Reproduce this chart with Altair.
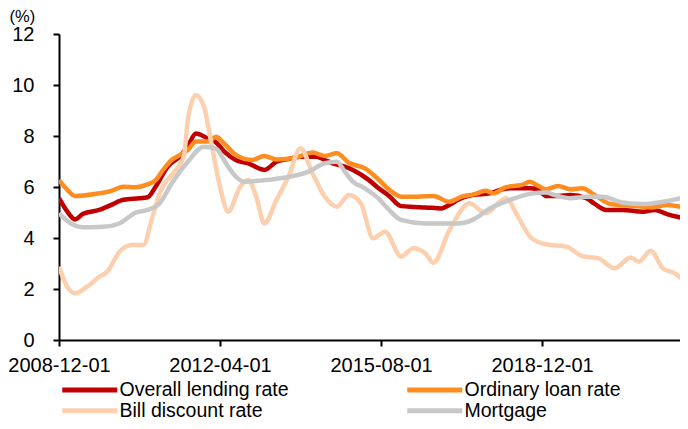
import json
import altair as alt
import pandas as pd

# ---- data (month offsets from 2008-12-01, rates in %) ----
series_names = ["Overall lending rate", "Ordinary loan rate", "Bill discount rate", "Mortgage"]
series_colors = ["#C00000", "#FF8C1F", "#FCD0AF", "#C8C8C8"]

tick_months = [0, 40, 80, 120]
tick_labels = ["2008-12-01", "2012-04-01", "2015-08-01", "2018-12-01"]
y_ticks = [0, 2, 4, 6, 8, 10, 12]

overall_months = [0, 2, 4, 6, 10, 13, 16, 20, 22, 24, 27, 30, 32, 34, 37, 39, 41, 44, 47, 51,
                  54, 57, 60, 64, 66, 68, 71, 73, 77, 79, 82, 85, 88, 91, 95, 97, 99, 103, 107,
                  110, 112, 117, 119, 121, 124, 127, 131, 133, 136, 140, 145, 148, 151, 156]
overall_values = [5.56, 5.05, 4.73, 4.95, 5.10, 5.30, 5.50, 5.56, 5.60, 6.01, 6.80, 7.20, 7.60,
                  8.10, 7.90, 7.75, 7.40, 7.05, 6.93, 6.67, 6.99, 7.10, 7.19, 7.19, 7.06, 6.93,
                  6.80, 6.67, 6.27, 6.00, 5.65, 5.25, 5.22, 5.20, 5.16, 5.30, 5.49, 5.69, 5.75,
                  5.90, 5.95, 5.95, 5.90, 5.65, 5.65, 5.69, 5.56, 5.35, 5.10, 5.10, 5.03, 5.10,
                  4.94, 4.75]

ordinary_months = [0, 2, 4, 9, 13, 16, 19, 22, 24, 26, 28, 30, 32, 34, 37, 39, 41, 44, 48, 51,
                   54, 59, 63, 66, 69, 72, 76, 79, 82, 85, 89, 93, 97, 100, 103, 106, 108, 111,
                   115, 117, 119, 121, 124, 127, 130, 133, 137, 143, 147, 151, 156]
ordinary_values = [6.27, 5.90, 5.65, 5.73, 5.85, 6.01, 5.99, 6.10, 6.27, 6.70, 7.06, 7.25, 7.45,
                   7.78, 7.78, 7.97, 7.71, 7.25, 7.06, 7.22, 7.08, 7.16, 7.35, 7.22, 7.32, 6.95,
                   6.73, 6.35, 5.90, 5.62, 5.62, 5.65, 5.42, 5.62, 5.71, 5.85, 5.75, 5.99, 6.08,
                   6.21, 6.05, 5.91, 6.04, 5.91, 5.95, 5.69, 5.33, 5.25, 5.20, 5.29, 5.16]

bill_months = [0, 2, 4, 7, 10, 12, 15, 18, 21, 23, 25, 29, 31, 32, 34, 36, 38, 40, 42, 45, 47,
               49, 51, 54, 57, 60, 63, 66, 69, 72, 75, 78, 81, 85, 88, 91, 93, 97, 102, 106,
               111, 114, 117, 120, 122, 126, 130, 134, 138, 142, 144, 147, 150, 153, 156]
bill_values = [2.87, 2.10, 1.83, 2.09, 2.48, 2.68, 3.46, 3.73, 3.73, 4.71, 5.75, 6.67, 7.19,
               8.63, 9.61, 9.15, 7.58, 6.00, 5.03, 6.01, 6.27, 5.62, 4.57, 5.49, 6.40, 7.52,
               6.53, 5.62, 5.23, 5.69, 5.36, 3.99, 4.25, 3.27, 3.60, 3.40, 3.03, 4.31, 5.36,
               4.97, 5.56, 4.84, 4.05, 3.79, 3.73, 3.66, 3.29, 3.20, 2.81, 3.24, 3.07, 3.50,
               2.81, 2.61, 2.22]

mortgage_months = [0, 3, 6, 11, 15, 19, 22, 25, 28, 32, 36, 39, 41, 42, 46, 50, 55, 62, 66, 69,
                   71, 73, 76, 79, 82, 85, 91, 99, 103, 107, 112, 117, 121, 123, 127, 131, 135,
                   140, 145, 150, 156]
mortgage_values = [4.97, 4.57, 4.42, 4.44, 4.57, 4.99, 5.10, 5.36, 6.14, 6.99, 7.58, 7.50, 7.06,
                   6.80, 6.21, 6.25, 6.34, 6.60, 6.93, 6.99, 6.60, 6.21, 5.95, 5.60, 5.10, 4.71,
                   4.57, 4.57, 4.73, 5.16, 5.49, 5.73, 5.78, 5.69, 5.56, 5.62, 5.62, 5.39, 5.33,
                   5.42, 5.62]

rows = []
for name, months, values in [
    (series_names[0], overall_months, overall_values),
    (series_names[1], ordinary_months, ordinary_values),
    (series_names[2], bill_months, bill_values),
    (series_names[3], mortgage_months, mortgage_values),
]:
    for m, v in zip(months, values):
        rows.append({"month": m, "value": v, "series": name})
df = pd.DataFrame(rows)

FONT = "Liberation Sans"
label_expr = json.dumps(tick_labels) + "[round(datum.value / 40)]"

chart = (
    alt.Chart(df)
    .mark_line(interpolate="monotone", strokeWidth=4.5, clip=True)
    .encode(
        x=alt.X(
            "month:Q",
            scale=alt.Scale(domain=[0, 156], nice=False, zero=False),
            axis=alt.Axis(
                values=tick_months,
                labelExpr=label_expr,
                title=None,
                grid=False,
                domainColor="black",
                domainWidth=2,
                tickColor="black",
                tickWidth=2,
                tickSize=6,
                labelFont=FONT,
                labelFontSize=20,
                labelColor="black",
                labelPadding=9,
                labelFlush=False,
                labelOverlap=False,
            ),
        ),
        y=alt.Y(
            "value:Q",
            scale=alt.Scale(domain=[0, 12], nice=False),
            axis=alt.Axis(
                values=y_ticks,
                title="(%)",
                titleAngle=0,
                titleAlign="left",
                titleBaseline="middle",
                titleX=-50,
                titleY=-18,
                titleFont=FONT,
                titleFontSize=16.5,
                titleFontWeight="normal",
                titleColor="black",
                grid=False,
                domainColor="black",
                domainWidth=2,
                tickColor="black",
                tickWidth=2,
                tickSize=6,
                labelFont=FONT,
                labelFontSize=20,
                labelColor="black",
                labelPadding=19,
            ),
        ),
        color=alt.Color(
            "series:N",
            sort=series_names,
            scale=alt.Scale(domain=series_names, range=series_colors),
            legend=alt.Legend(
                title=None,
                orient="none",
                direction="horizontal",
                legendX=21,
                legendY=346,
                columns=2,
                symbolType="M-5.5,0H5.5",
                symbolSize=100,
                symbolStrokeWidth=5,
                labelFont=FONT,
                labelFontSize=19.5,
                labelColor="black",
                labelOffset=20,
                columnPadding=108,
                rowPadding=0,
                padding=0,
                labelLimit=400,
            ),
        ),
    )
    .properties(
        width=628,
        height=306,
        padding={"left": 51, "top": 26, "right": -7, "bottom": 81},
        autosize=alt.AutoSizeParams(type="none"),
        background="white",
    )
    .configure_view(stroke=None)
)

chart.save("out.html", embed_options={"renderer": "svg", "actions": False})
